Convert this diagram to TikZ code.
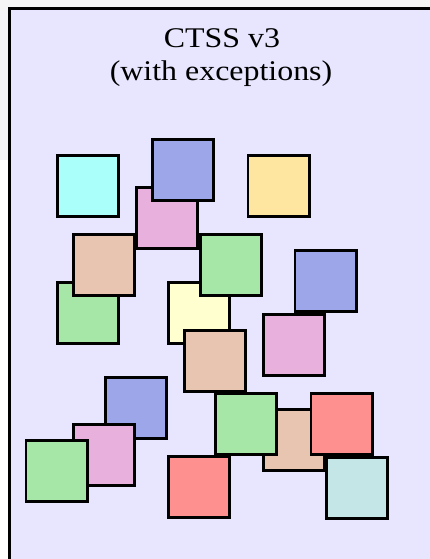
\documentclass[tikz,border=0pt]{standalone}
\usepackage{fontspec}
\setmainfont{Liberation Serif}
\newfontfamily\titlefont[FakeStretch=1.12]{Liberation Serif}

\definecolor{lavbg}{RGB}{232,230,255}
\definecolor{sqcyan}{RGB}{170,255,250}
\definecolor{sqblue}{RGB}{157,166,232}
\definecolor{sqpink}{RGB}{232,176,220}
\definecolor{sqgold}{RGB}{255,230,160}
\definecolor{sqtan}{RGB}{232,197,176}
\definecolor{sqgreen}{RGB}{166,230,166}
\definecolor{sqcream}{RGB}{255,255,208}
\definecolor{sqred}{RGB}{255,144,144}
\definecolor{sqteal}{RGB}{197,230,230}

\tikzset{
  sq/.style={draw=black, line width=2.8pt, minimum size=61.2pt, inner sep=0pt, fill=#1},
  ttl/.style={anchor=base, font=\titlefont\fontsize{28.5}{33}\selectfont}
}

\begin{document}
\begin{tikzpicture}[x=1pt, y=-1pt]
    % Page frame (430 x 559)
    \useasboundingbox (0,0) rectangle (430,559);
    \clip (0,0) rectangle (430,559);
    \fill[white] (0,0) rectangle (430,559);
    \fill[gray!8] (0,0) rectangle (430,8);
    \fill[gray!8] (0,0) rectangle (9,160);

    % Lavender panel (runs off the right and bottom edges)
    \draw[fill=lavbg, line width=2.6pt] (9.5,8.5) rectangle (445,575);

    % Title
    \node[ttl] (title1) at (222,48) {CTSS v3};
    \node[ttl] (title2) at (221,81) {(with exceptions)};

    % Top row
    \node[sq=sqcyan]  (cyanA)  at (88,186)    {};
    \node[sq=sqpink]  (pinkA)  at (167,218)   {};
    \node[sq=sqblue]  (blueA)  at (183,170)   {};
    \node[sq=sqgold]  (goldA)  at (278.5,186) {};

    % Second group
    \node[sq=sqgreen] (greenA) at (88,313)    {};
    \node[sq=sqtan]   (tanA)   at (104,265)   {};
    \node[sq=sqcream] (creamA) at (199,313)   {};
    \node[sq=sqgreen] (greenB) at (231,265)   {};
    \node[sq=sqtan]   (tanB)   at (215,361)   {};
    \node[sq=sqblue]  (blueB)  at (325.5,281) {};
    \node[sq=sqpink]  (pinkB)  at (294,345)   {};

    % Bottom left stack
    \node[sq=sqblue]  (blueC)  at (136,408)   {};
    \node[sq=sqpink]  (pinkC)  at (104,455)   {};
    \node[sq=sqgreen] (greenC) at (56.5,471)  {};

    % Bottom right group
    \node[sq=sqtan]   (tanC)   at (294,440)   {};
    \node[sq=sqred]   (redA)   at (199,487)   {};
    \node[sq=sqgreen] (greenD) at (246,424)   {};
    \node[sq=sqred]   (redB)   at (341.5,424) {};
    \node[sq=sqteal]  (tealA)  at (357,488)   {};

\end{tikzpicture}
\end{document}
